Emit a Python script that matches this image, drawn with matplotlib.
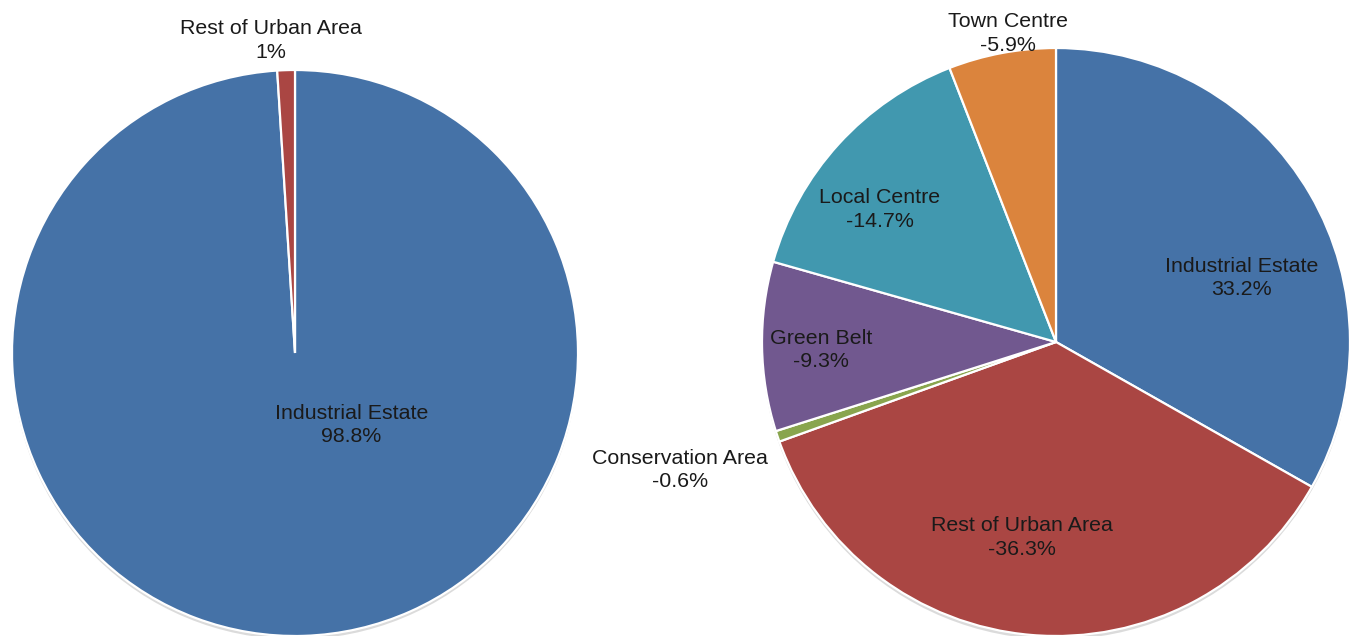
import matplotlib.pyplot as plt
from matplotlib.patches import Circle

plt.rcParams['font.family'] = ['Liberation Sans', 'DejaVu Sans']

# left pie
left_labels = ['Industrial Estate', 'Rest of Urban Area']
left_values = [98.8, 1.0]
left_text = ['98.8%', '1%']
left_colors = ['#4572A7', '#AA4643']
left_label_pos = [(0.20, -0.255), (-0.085, 1.105)]

# right pie
right_labels = ['Industrial Estate', 'Rest of Urban Area', 'Conservation Area',
                'Green Belt', 'Local Centre', 'Town Centre']
right_values = [33.2, 36.3, 0.6, 9.3, 14.7, 5.9]
right_text = ['33.2%', '-36.3%', '-0.6%', '-9.3%', '-14.7%', '-5.9%']
right_colors = ['#4572A7', '#AA4643', '#89A54E', '#71588F', '#4198AF', '#DB843D']
right_label_pos = [(0.632, 0.218), (-0.115, -0.665), (-1.28, -0.435),
                   (-0.80, -0.027), (-0.60, 0.45), (-0.163, 1.05)]

fig = plt.figure(figsize=(13.54, 6.39), dpi=100)

def draw_pie(rect, values, colors, labels, texts, positions):
    ax = fig.add_axes(rect)
    # faint shadow under the pie
    ax.add_patch(Circle((0.0, -0.012), 1.0, color='#b0b0b0', alpha=0.45, zorder=0, lw=0))
    ax.pie(values, colors=colors, startangle=90, counterclock=False,
           wedgeprops=dict(edgecolor='white', linewidth=1.6))
    for lab, txt, (x, y) in zip(labels, texts, positions):
        ax.text(x, y, lab + '\n' + txt, ha='center', va='center', fontsize=15.4,
                color='#1a1a1a', linespacing=1.3, clip_on=False)
    ax.set_xlim(-1, 1)
    ax.set_ylim(-1, 1)
    ax.set_aspect('equal')
    ax.axis('off')
    return ax

draw_pie([12 / 1354, 3 / 639, 566 / 1354, 566 / 639],
         left_values, left_colors, left_labels, left_text, left_label_pos)
draw_pie([762 / 1354, 2 / 639, 588 / 1354, 590 / 639],
         right_values, right_colors, right_labels, right_text, right_label_pos)

fig.savefig('out.png', dpi=100)
